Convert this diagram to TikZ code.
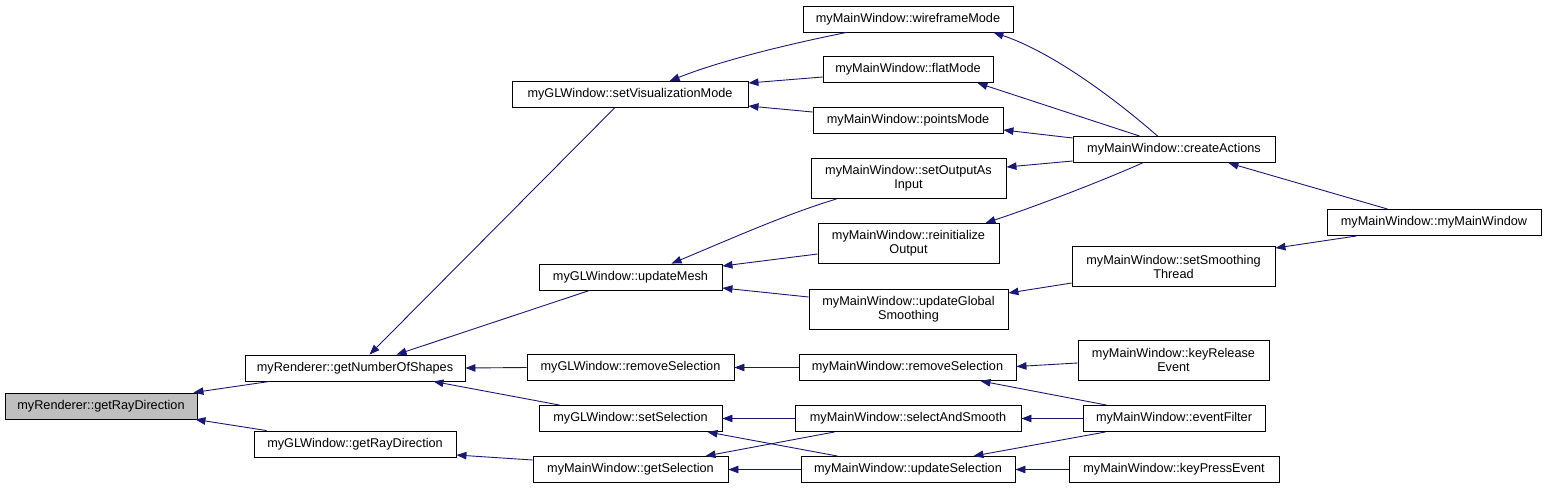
\documentclass[tikz,border=0pt]{standalone}
\usepackage{fontspec}
\setmainfont{Liberation Sans}
\usetikzlibrary{arrows.meta}
\definecolor{edgeblue}{HTML}{191970}
\definecolor{curgray}{HTML}{BFBFBF}
\begin{document}
\begin{tikzpicture}[x=1pt, y=-1pt, >={Triangle[length=10pt,width=7.5pt]},
    fn/.style={draw=black, line width=0.9pt, rectangle, inner sep=0pt, align=center,
      minimum height=26pt, font=\fontsize{12.7}{14}\selectfont},
    fn2/.style={fn, minimum height=40pt},
    call/.style={->, draw=edgeblue, fill=none, line width=0.9pt}]
    \useasboundingbox (0,0) rectangle (1547,488);
    % columns from left to right
    \node[fn, fill=curgray, minimum width=192pt] (rayR) at (101,406) {myRenderer::getRayDirection};
    \node[fn, minimum width=220pt] (nshapes) at (355,368) {myRenderer::getNumberOfShapes};
    \node[fn, minimum width=202pt] (glray) at (355,444) {myGLWindow::getRayDirection};
    \node[fn, minimum width=236pt] (vismode) at (630,94.5) {myGLWindow::setVisualizationMode};
    \node[fn, minimum width=183pt] (mesh) at (630.5,277) {myGLWindow::updateMesh};
    \node[fn, minimum width=207pt] (glrem) at (630.5,367.5) {myGLWindow::removeSelection};
    \node[fn, minimum width=183pt] (glsel) at (630.5,418.5) {myGLWindow::setSelection};
    \node[fn, minimum width=195pt] (getsel) at (630.5,469.5) {myMainWindow::getSelection};
    \node[fn, minimum width=210pt] (wire) at (908,19) {myMainWindow::wireframeMode};
    \node[fn, minimum width=170pt] (flat) at (908,69.5) {myMainWindow::flatMode};
    \node[fn, minimum width=190pt] (points) at (908,120) {myMainWindow::pointsMode};
    \node[fn2, minimum width=195pt] (setout) at (908.5,178.5) {myMainWindow::setOutputAs\\Input};
    \node[fn2, minimum width=181pt] (reinit) at (908.5,243.5) {myMainWindow::reinitialize\\Output};
    \node[fn2, minimum width=199pt] (global) at (908.5,309) {myMainWindow::updateGlobal\\Smoothing};
    \node[fn, minimum width=217pt] (mwrem) at (907.5,367.5) {myMainWindow::removeSelection};
    \node[fn, minimum width=226pt] (selsm) at (908,418.5) {myMainWindow::selectAndSmooth};
    \node[fn, minimum width=214pt] (updsel) at (908,469.5) {myMainWindow::updateSelection};
    \node[fn, minimum width=202pt] (create) at (1174,149.5) {myMainWindow::createActions};
    \node[fn2, minimum width=203pt] (sthread) at (1173.5,266.5) {myMainWindow::setSmoothing\\Thread};
    \node[fn2, minimum width=191pt] (keyrel) at (1173.5,360) {myMainWindow::keyRelease\\Event};
    \node[fn, minimum width=182pt] (evfilt) at (1174,418.5) {myMainWindow::eventFilter};
    \node[fn, minimum width=210pt] (keypr) at (1174,469.5) {myMainWindow::keyPressEvent};
    \node[fn, minimum width=214pt] (mw) at (1434,222.5) {myMainWindow::myMainWindow};
    % calls into the renderer
    \draw[call] ([xshift=25]nshapes.south west) -- ([xshift=-4]rayR.north east);
    \draw[call] ([xshift=13]glray.north west) -- ([xshift=-2]rayR.south east);
    \draw[call] ([xshift=103]vismode.south west) -- ([xshift=125]nshapes.north west);
    \draw[call] ([xshift=51]mesh.south west) -- ([xshift=152]nshapes.north west);
    \draw[call] (glrem.west) -- (nshapes.east);
    \draw[call] ([xshift=21]glsel.north west) -- ([xshift=-32]nshapes.south east);
    \draw[call] ([yshift=9.5]getsel.west) -- ([yshift=-11]glray.east);
    % visualization modes
    \draw[call] ([xshift=44]wire.south west) .. controls +(-60,12) and +(50,-20) .. ([xshift=158]vismode.north west);
    \draw[call] ([yshift=-7.5]flat.west) -- ([yshift=11.5]vismode.east);
    \draw[call] ([yshift=8]points.west) -- ([yshift=-11.5]vismode.east);
    \draw[call] ([xshift=85]create.north west) .. controls +(-40,-35) and +(60,20) .. ([xshift=-20]wire.south east);
    \draw[call] ([xshift=67]create.north west) -- ([xshift=-16]flat.south east);
    \draw[call] ([yshift=11.5]create.west) -- ([yshift=-10]points.east);
    \draw[call] ([yshift=-11.5]create.west) -- ([yshift=11.5]setout.east);
    \draw[call] ([xshift=70]create.south west) .. controls +(-50,22) and +(45,-15) .. ([xshift=-14]reinit.north east);
    \draw[call] ([xshift=61]mw.north west) -- ([xshift=-47]create.south east);
    \draw[call] ([xshift=30]mw.south west) -- ([yshift=-2]sthread.north east);
    % mesh updates
    \draw[call] ([xshift=26]setout.south west) .. controls +(-50,15) and +(60,-25) .. ([xshift=133]mesh.north west);
    \draw[call] ([yshift=-10.5]reinit.west) -- ([yshift=11]mesh.east);
    \draw[call] ([yshift=12]global.west) -- ([yshift=-11]mesh.east);
    \draw[call] ([yshift=-16.5]sthread.west) -- ([yshift=16]global.east);
    % selection
    \draw[call] (mwrem.west) -- (glrem.east);
    \draw[call] ([yshift=-3]keyrel.west) -- ([yshift=1]mwrem.east);
    \draw[call] ([xshift=24]evfilt.north west) -- ([xshift=-36]mwrem.south east);
    \draw[call] (evfilt.west) -- (selsm.east);
    \draw[call] ([xshift=23]evfilt.south west) -- ([xshift=-42]updsel.north east);
    \draw[call] (selsm.west) -- (glsel.east);
    \draw[call] ([xshift=40]selsm.south west) -- ([xshift=-23]getsel.north east);
    \draw[call] ([xshift=37]updsel.north west) -- ([xshift=-15]glsel.south east);
    \draw[call] (updsel.west) -- (getsel.east);
    \draw[call] (keypr.west) -- (updsel.east);
\end{tikzpicture}
\end{document}
